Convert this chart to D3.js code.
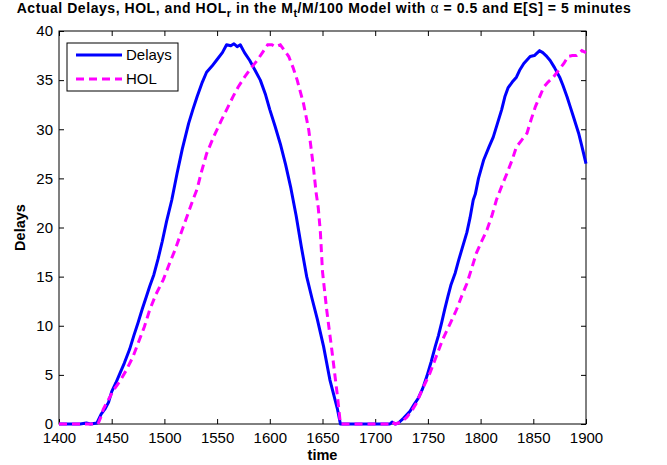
<!DOCTYPE html>
<html>
<head>
<meta charset="utf-8">
<script src="https://cdn.jsdelivr.net/npm/d3@7"></script>
<style>
  body { margin: 0; background: #fff; }
  svg { display: block; font-family: "Liberation Sans", Arial, sans-serif; }
  .tick text { font-size: 15px; fill: #000; }
  .tick line { stroke: #000; }
</style>
</head>
<body>
<div id="chart"></div>
<script>
// values
const delayTime = [1400, 1420, 1426, 1430, 1436, 1440, 1444, 1447, 1450, 1454, 1458, 1462, 1467, 1471, 1475, 1479, 1483, 1486, 1490, 1494, 1498, 1502, 1507, 1512, 1517, 1523, 1527, 1531, 1536, 1540, 1545, 1550, 1555, 1559, 1563, 1566, 1569, 1572, 1576, 1581, 1586, 1591, 1596, 1600, 1605, 1610, 1615, 1620, 1625, 1630, 1635, 1640, 1645, 1651, 1657, 1664, 1667, 1700, 1714, 1716, 1719, 1722, 1727, 1733, 1737, 1741, 1745, 1749, 1753, 1757, 1760, 1763, 1766, 1769, 1772, 1776, 1779, 1782, 1787, 1790, 1793, 1795, 1798, 1803, 1808, 1812, 1816, 1820, 1823, 1826, 1830, 1834, 1837, 1841, 1847, 1851, 1856, 1859, 1862, 1866, 1870, 1875, 1878, 1882, 1885, 1888, 1893, 1896, 1900];
const delayValue = [0, 0, 0.1, 0, 0.1, 1.0, 1.6, 2.2, 3.3, 4.2, 5.2, 6.2, 7.6, 9.0, 10.3, 11.7, 13.0, 14.0, 15.2, 16.8, 18.6, 20.6, 22.8, 25.5, 28.0, 30.6, 32.0, 33.3, 34.8, 35.8, 36.4, 37.1, 37.8, 38.6, 38.5, 38.7, 38.4, 38.6, 37.8, 37.0, 36.0, 35.0, 33.5, 32.0, 30.3, 28.5, 26.4, 24.0, 21.2, 18.0, 15.0, 12.8, 10.7, 7.9, 4.5, 1.6, 0, 0, 0, 0.2, 0, 0.1, 0.6, 1.3, 2.0, 2.65, 3.6, 4.85, 6.3, 7.9, 9.0, 10.3, 11.7, 13.0, 14.2, 15.4, 16.6, 17.7, 19.5, 21.0, 22.8, 23.4, 25.0, 26.9, 28.2, 29.2, 30.6, 32.0, 33.3, 34.2, 34.8, 35.3, 36.0, 36.7, 37.4, 37.5, 38.0, 37.8, 37.5, 37.0, 36.3, 35.3, 34.5, 33.3, 32.3, 31.3, 29.6, 28.3, 26.5];

const holTime = [1400, 1437, 1440, 1442, 1447, 1452, 1458, 1464, 1470, 1475, 1481, 1486, 1492, 1499, 1504, 1510, 1514, 1518, 1523, 1527, 1531, 1535, 1540, 1547, 1554, 1560, 1565, 1570, 1576, 1582, 1588, 1593, 1598, 1602, 1605, 1610, 1614, 1618, 1622, 1626, 1629, 1632, 1635, 1637, 1641, 1644, 1646, 1648, 1650, 1654, 1659, 1664, 1667, 1714, 1716, 1719, 1725, 1730, 1735, 1739, 1745, 1752, 1758, 1764, 1771, 1777, 1782, 1787, 1792, 1796, 1801, 1806, 1811, 1815, 1820, 1825, 1830, 1834, 1839, 1844, 1848, 1852, 1856, 1860, 1864, 1869, 1874, 1879, 1883, 1887, 1891, 1896, 1900];
const holValue = [0, 0, 0.8, 1.5, 2.5, 3.5, 4.4, 5.5, 6.8, 8.2, 9.9, 11.6, 13.2, 14.7, 16.1, 17.7, 18.9, 20.1, 21.6, 22.8, 23.9, 25.6, 27.5, 29.3, 30.9, 32.2, 33.3, 34.3, 35.3, 36.2, 37.0, 37.8, 38.6, 38.6, 38.4, 38.6, 38.0, 37.4, 36.3, 35.0, 33.8, 32.6, 31.0, 29.9, 26.5, 23.5, 22.0, 19.5, 15.5, 11.6, 7.4, 3.0, 0, 0, 0.2, 0, 0.2, 0.7, 1.4, 2.1, 3.6, 5.2, 6.9, 8.6, 10.2, 11.6, 13.0, 14.3, 16.0, 17.4, 18.6, 19.75, 21.3, 22.8, 24.2, 25.5, 26.9, 28.2, 28.9, 29.6, 31.0, 32.3, 33.3, 34.3, 34.8, 35.3, 36.0, 36.7, 37.4, 37.5, 37.5, 38.0, 37.8];

const xTicks = [1400, 1450, 1500, 1550, 1600, 1650, 1700, 1750, 1800, 1850, 1900];
const yTicks = [0, 5, 10, 15, 20, 25, 30, 35, 40];
const seriesNames = ["Delays", "HOL"];

const width = 667;
const height = 465;
const margin = { top: 31, right: 81, bottom: 41, left: 59 };
const plotW = width - margin.left - margin.right;
const plotH = height - margin.top - margin.bottom;

const svg = d3
  .select("#chart")
  .append("svg")
  .attr("width", width)
  .attr("height", height);

const x = d3.scaleLinear().domain([1400, 1900]).range([0, plotW]);
const y = d3.scaleLinear().domain([0, 40]).range([plotH, 0]);

const g = svg
  .append("g")
  .attr("transform", `translate(${margin.left},${margin.top})`);

g.append("clipPath")
  .attr("id", "plot-clip")
  .append("rect")
  .attr("x", -2)
  .attr("y", -2)
  .attr("width", plotW + 4)
  .attr("height", plotH + 4);

// axes, ticks point inward like matlab
g.append("g")
  .attr("transform", `translate(0,${plotH})`)
  .call(d3.axisBottom(x).tickValues(xTicks).tickFormat(d3.format("d")).tickSizeInner(-5).tickSizeOuter(0).tickPadding(8))
  .call((a) => a.select(".domain").remove());

g.append("g")
  .call(d3.axisTop(x).tickValues(xTicks).tickFormat("").tickSizeInner(-5).tickSizeOuter(0))
  .call((a) => a.select(".domain").remove());

g.append("g")
  .call(d3.axisLeft(y).tickValues(yTicks).tickSizeInner(-5).tickSizeOuter(0).tickPadding(6))
  .call((a) => a.select(".domain").remove());

g.append("g")
  .attr("transform", `translate(${plotW},0)`)
  .call(d3.axisRight(y).tickValues(yTicks).tickFormat("").tickSizeInner(-5).tickSizeOuter(0))
  .call((a) => a.select(".domain").remove());

g.append("rect")
  .attr("width", plotW)
  .attr("height", plotH)
  .attr("fill", "none")
  .attr("stroke", "#000")
  .attr("stroke-width", 1);

const line = d3
  .line()
  .x((d) => x(d[0]))
  .y((d) => y(d[1]));

const delays = delayTime.map((t, i) => [t, delayValue[i]]);
const hol = holTime.map((t, i) => [t, holValue[i]]);

const lines = g.append("g").attr("clip-path", "url(#plot-clip)");

lines
  .append("path")
  .datum(delays)
  .attr("d", line)
  .attr("fill", "none")
  .attr("stroke", "#0000ff")
  .attr("stroke-width", 3)
  .attr("stroke-linejoin", "round");

lines
  .append("path")
  .datum(hol)
  .attr("d", line)
  .attr("fill", "none")
  .attr("stroke", "#ff00ff")
  .attr("stroke-width", 3)
  .attr("stroke-dasharray", "8,5");

// legend
const legend = svg.append("g").attr("transform", "translate(67,43)");
legend
  .append("rect")
  .attr("width", 111)
  .attr("height", 48)
  .attr("fill", "#fff")
  .attr("stroke", "#000");

seriesNames.forEach((name, i) => {
  const ly = 12 + i * 24;
  legend
    .append("line")
    .attr("x1", 9)
    .attr("x2", 55)
    .attr("y1", ly)
    .attr("y2", ly)
    .attr("stroke", i === 0 ? "#0000ff" : "#ff00ff")
    .attr("stroke-width", 3)
    .attr("stroke-dasharray", i === 0 ? null : "8,5");
  legend
    .append("text")
    .attr("x", 59)
    .attr("y", ly + 5)
    .attr("font-size", 15)
    .text(name);
});

// title with subscripts
const title = svg
  .append("text")
  .attr("x", 324)
  .attr("y", 13)
  .attr("text-anchor", "middle")
  .attr("font-size", 14)
  .attr("letter-spacing", 0.55)
  .attr("font-weight", "bold");
title.append("tspan").text("Actual Delays, HOL, and HOL");
title.append("tspan").attr("dy", 4).attr("font-size", 11).text("r");
title.append("tspan").attr("dy", -4).text(" in the M");
title.append("tspan").attr("dy", 4).attr("font-size", 11).text("t");
title.append("tspan").attr("dy", -4).text("/M/100 Model with ");
title.append("tspan").attr("font-weight", "normal").text("α");
title.append("tspan").text(" = 0.5 and E[S] = 5 minutes");

svg
  .append("text")
  .attr("x", margin.left + plotW / 2)
  .attr("y", 460)
  .attr("text-anchor", "middle")
  .attr("font-size", 14.5)
  .attr("font-weight", "bold")
  .text("time");

svg
  .append("text")
  .attr("transform", `translate(25,${margin.top + plotH / 2}) rotate(-90)`)
  .attr("text-anchor", "middle")
  .attr("font-size", 14.5)
  .attr("font-weight", "bold")
  .text("Delays");
</script>
</body>
</html>
